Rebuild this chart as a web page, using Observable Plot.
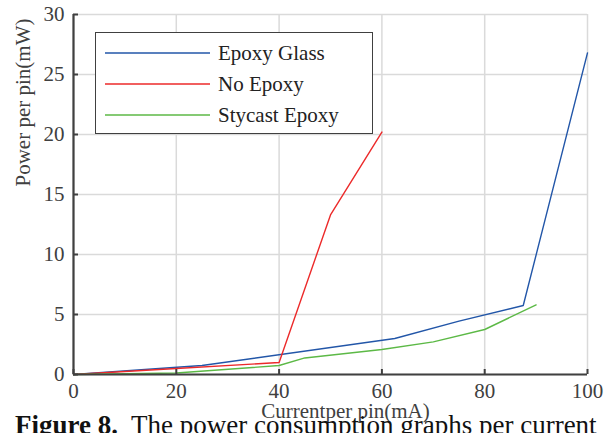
<!DOCTYPE html>
<html>
<head>
<meta charset="utf-8">
<script src="https://cdn.jsdelivr.net/npm/d3@7"></script>
<script src="https://cdn.jsdelivr.net/npm/@observablehq/plot@0.6"></script>
<style>
  html, body { margin: 0; padding: 0; background: white; overflow: hidden; }
  #wrap { position: relative; width: 610px; height: 433px; overflow: hidden; }
  #legend { position: absolute; left: 95px; top: 32px; width: 276px; height: 100px;
    border: 1px solid #404040; background: white; font-family: "Liberation Serif", serif; font-size: 21px; color: #222; }
  .row { position: absolute; left: 0; height: 24px; display: flex; align-items: center; }
  .row svg { margin-left: 9px; margin-right: 8px; }
  #caption { position: absolute; left: 15px; top: 412px; font-family: "Liberation Serif", serif;
    font-size: 27px; line-height: 27px; color: #111; white-space: nowrap; }
</style>
</head>
<body>
<div id="wrap">
  <div id="chart"></div>
  <div id="legend"></div>
  <div id="caption"><b>Figure 8.</b>&nbsp; The power consumption graphs per current</div>
</div>
<script>
const seriesNames = ["Epoxy Glass", "No Epoxy", "Stycast Epoxy"];
const seriesColors = ["#2256a8", "#ec2a2a", "#5cb946"];

const epoxyGlassX = [0, 25, 62.5, 75, 87.5, 100];
const epoxyGlassY = [0, 0.75, 3.0, 4.45, 5.75, 26.8];
const noEpoxyX = [0, 20, 40, 50, 60];
const noEpoxyY = [0, 0.5, 1.0, 13.3, 20.2];
const stycastX = [0, 20, 40, 45, 60, 70, 80, 90];
const stycastY = [0, 0.12, 0.75, 1.38, 2.08, 2.72, 3.75, 5.8];

const xTicks = [0, 20, 40, 60, 80, 100];
const yTicks = [0, 5, 10, 15, 20, 25, 30];
const xLabel = "Currentper pin(mA)";
const yLabel = "Power per pin(mW)";

const rows = [];
[[epoxyGlassX, epoxyGlassY], [noEpoxyX, noEpoxyY], [stycastX, stycastY]].forEach(([xs, ys], k) => {
  xs.forEach((x, i) => rows.push({series: seriesNames[k], x, y: ys[i]}));
});

const axisColor = "#404040";
const serif = "Liberation Serif";
const chart = Plot.plot({
  width: 610, height: 433,
  marginLeft: 73, marginRight: 23, marginTop: 14, marginBottom: 59,
  x: {domain: [0, 100]},
  y: {domain: [0, 30]},
  color: {domain: seriesNames, range: seriesColors},
  style: {fontFamily: "'Liberation Serif', serif", background: "white", overflow: "visible"},
  marks: [
    Plot.gridX(xTicks, {stroke: "#dadada", strokeOpacity: 1, strokeWidth: 1.5}),
    Plot.gridY(yTicks, {stroke: "#dadada", strokeOpacity: 1, strokeWidth: 1.5}),
    Plot.line(rows, {x: "x", y: "y", z: "series", stroke: "series", strokeWidth: 1.4}),
    Plot.ruleX([0], {stroke: axisColor, strokeWidth: 2.2}),
    Plot.ruleY([0], {stroke: axisColor, strokeWidth: 2.2}),
    Plot.axisX(xTicks, {tickSize: 5, dy: -5, tickFormat: () => "", stroke: axisColor, strokeWidth: 2, label: null}),
    Plot.axisY(yTicks, {tickSize: 5, dx: 5, tickFormat: () => "", stroke: axisColor, strokeWidth: 2, label: null}),
    Plot.axisX(xTicks, {tickSize: 0, tickPadding: 9, fontSize: 21, fontFamily: serif, fill: axisColor, label: null}),
    Plot.axisY(yTicks, {tickSize: 0, tickPadding: 9, fontSize: 21, fontFamily: serif, fill: axisColor, label: null}),
    Plot.text([yLabel], {text: d => d, frameAnchor: "left", rotate: -90, dx: -50, dy: -8, fontSize: 21, fontFamily: serif, fill: axisColor}),
    Plot.text([xLabel], {text: d => d, frameAnchor: "bottom", dx: 15, dy: 43, fontSize: 21, fontFamily: serif, fill: axisColor})
  ]
});
document.getElementById("chart").appendChild(chart);

const legend = document.getElementById("legend");
seriesNames.forEach((name, i) => {
  const row = document.createElement("div");
  row.className = "row";
  row.style.top = (8 + i * 31) + "px";
  row.innerHTML = `<svg width="105" height="4"><line x1="0" x2="105" y1="2" y2="2" stroke="${seriesColors[i]}" stroke-width="1.6"/></svg><span>${name}</span>`;
  legend.appendChild(row);
});
</script>
</body>
</html>
